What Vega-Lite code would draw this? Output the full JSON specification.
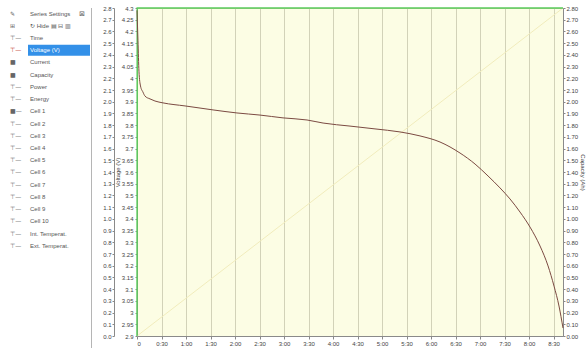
{
  "$schema": "https://vega.github.io/schema/vega-lite/v6.json",
  "padding": {"top": 4, "left": 0, "right": 0, "bottom": 0},
  "autosize": {"type": "pad"},
  "background": "white",
  "spacing": 45,
  "bounds": "flush",
  "config": {
    "font": "Liberation Sans",
    "view": {"stroke": null},
    "axis": {
      "labelFontSize": 6,
      "labelColor": "#444444",
      "tickColor": "#888888",
      "domainColor": "#8a8a8a",
      "titleFontSize": 6,
      "titleFontWeight": "normal",
      "titleColor": "#444444",
      "tickSize": 2,
      "labelPadding": 1
    },
    "axisY": {"grid": false},
    "axisX": {"grid": true, "gridColor": "#d2d2b8", "gridWidth": 1}
  },
  "datasets": {
    "side": [
      {"row": 0, "icon": "✎", "label": "Series Settings", "selected": false},
      {"row": 1, "icon": "⊞", "label": "↻ Hide ▤ ⊟  ▥", "selected": false},
      {"row": 2, "icon": "⊤—", "label": "Time", "selected": false},
      {"row": 3, "icon": "⊤—", "label": "Voltage (V)", "selected": true},
      {"row": 4, "icon": "■", "label": "Current", "selected": false},
      {"row": 5, "icon": "■", "label": "Capacity", "selected": false},
      {"row": 6, "icon": "⊤—", "label": "Power", "selected": false},
      {"row": 7, "icon": "⊤—", "label": "Energy", "selected": false},
      {"row": 8, "icon": "■—", "label": "Cell 1", "selected": false},
      {"row": 9, "icon": "⊤—", "label": "Cell 2", "selected": false},
      {"row": 10, "icon": "⊤—", "label": "Cell 3", "selected": false},
      {"row": 11, "icon": "⊤—", "label": "Cell 4", "selected": false},
      {"row": 12, "icon": "⊤—", "label": "Cell 5", "selected": false},
      {"row": 13, "icon": "⊤—", "label": "Cell 6", "selected": false},
      {"row": 14, "icon": "⊤—", "label": "Cell 7", "selected": false},
      {"row": 15, "icon": "⊤—", "label": "Cell 8", "selected": false},
      {"row": 16, "icon": "⊤—", "label": "Cell 9", "selected": false},
      {"row": 17, "icon": "⊤—", "label": "Cell 10", "selected": false},
      {"row": 18, "icon": "⊤—", "label": "Int. Temperat.", "selected": false},
      {"row": 19, "icon": "⊤—", "label": "Ext. Temperat.", "selected": false}
    ],
    "volt": [
      {"t": 0, "v": 4.29}, {"t": 1.2, "v": 4.16}, {"t": 2.4, "v": 4.03}, {"t": 4.3, "v": 3.967},
      {"t": 7.3, "v": 3.941}, {"t": 9.8, "v": 3.924}, {"t": 15.9, "v": 3.912}, {"t": 22, "v": 3.903},
      {"t": 31.8, "v": 3.895}, {"t": 58.8, "v": 3.882}, {"t": 93.1, "v": 3.865}, {"t": 122.4, "v": 3.852},
      {"t": 150.6, "v": 3.843}, {"t": 178.8, "v": 3.831}, {"t": 208.2, "v": 3.822}, {"t": 227.8, "v": 3.809},
      {"t": 260.8, "v": 3.796}, {"t": 291.4, "v": 3.784}, {"t": 322, "v": 3.771}, {"t": 346.5, "v": 3.754},
      {"t": 371, "v": 3.728}, {"t": 395.5, "v": 3.681}, {"t": 413.9, "v": 3.634}, {"t": 429.8, "v": 3.583},
      {"t": 444.5, "v": 3.532}, {"t": 456.7, "v": 3.485}, {"t": 469, "v": 3.429}, {"t": 481.2, "v": 3.365},
      {"t": 493.5, "v": 3.284}, {"t": 503.3, "v": 3.199}, {"t": 510.6, "v": 3.113}, {"t": 516.7, "v": 3.028},
      {"t": 521.6, "v": 2.934}
    ],
    "curr": [
      {"t": 0, "i": 0}, {"t": 0.3, "i": 2.8}, {"t": 521.6, "i": 2.8}
    ],
    "cap": [
      {"t": 0, "c": 0}, {"t": 260.8, "c": 1.4}, {"t": 521.6, "c": 2.8}
    ]
  },
  "hconcat": [
    {
      "width": 92,
      "height": 341,
      "layer": [
        {
          "data": {"name": "side"},
          "transform": [{"filter": "datum.selected"}],
          "mark": {"type": "rect", "color": "#3390e8"},
          "encoding": {
            "x": {"datum": 28, "type": "quantitative", "scale": {"domain": [0, 92], "nice": false}, "axis": null},
            "x2": {"datum": 90},
            "y": {"field": "row", "type": "ordinal", "scale": {"domain": [0,1,2,3,4,5,6,7,8,9,10,11,12,13,14,15,16,17,18,19,20,21,22,23,24,25,26,27], "paddingInner": 0.1, "paddingOuter": 0}, "axis": null}
          }
        },
        {
          "data": {"name": "side"},
          "mark": {"type": "text", "align": "left", "baseline": "middle", "fontSize": 6, "font": "DejaVu Sans"},
          "encoding": {
            "x": {"datum": 10, "type": "quantitative"},
            "y": {"field": "row", "type": "ordinal"},
            "text": {"field": "icon"},
            "color": {"condition": {"test": "datum.selected", "value": "#c0392b"}, "value": "#666666"}
          }
        },
        {
          "data": {"name": "side"},
          "mark": {"type": "text", "align": "left", "baseline": "middle", "fontSize": 6},
          "encoding": {
            "x": {"condition": {"test": "datum.row < 2", "datum": 19}, "datum": 30, "type": "quantitative"},
            "y": {"field": "row", "type": "ordinal"},
            "text": {"field": "label"},
            "color": {"condition": {"test": "datum.selected", "value": "#ffffff"}, "value": "#555555"}
          }
        },
        {
          "data": {"values": [{"k": "close"}]},
          "mark": {"type": "text", "align": "center", "baseline": "middle", "fontSize": 7, "font": "DejaVu Sans", "color": "#666666"},
          "encoding": {
            "x": {"datum": 82, "type": "quantitative"},
            "y": {"datum": 0, "type": "ordinal"},
            "text": {"value": "⊠"}
          }
        },
        {
          "data": {"values": [{"k": "border"}]},
          "mark": {"type": "rule", "color": "#b5b5b5", "strokeWidth": 1},
          "encoding": {
            "x": {"datum": 91.5, "type": "quantitative"}
          }
        }
      ]
    },
    {
      "width": 426,
      "height": 328,
      "view": {"fill": "#fcfde4", "stroke": "#b9c9a2"},
      "encoding": {
        "x": {
          "field": "t",
          "type": "quantitative",
          "scale": {"domain": [0, 521.6], "nice": false},
          "axis": {
            "values": [0,30,60,90,120,150,180,210,240,270,300,330,360,390,420,450,480,510],
            "labelExpr": "datum.value == 0 ? '0' : floor(datum.value / 60) + ':' + (datum.value % 60 == 0 ? '00' : '30')",
            "title": null,
            "tickSize": 3,
            "labelOverlap": false
          }
        }
      },
      "layer": [
        {
          "data": {"name": "cap"},
          "mark": {"type": "line", "color": "#f1ecbc", "strokeWidth": 1},
          "encoding": {
            "y": {
              "field": "c",
              "type": "quantitative",
              "scale": {"domain": [0, 2.8], "nice": false},
              "axis": {
                "orient": "right",
                "values": [0,0.1,0.2,0.3,0.4,0.5,0.6,0.7,0.8,0.9,1,1.1,1.2,1.3,1.4,1.5,1.6,1.7,1.8,1.9,2,2.1,2.2,2.3,2.4,2.5,2.6,2.7,2.8],
                "format": ".2f",
                "title": "Capacity (Ah)",
                "titlePadding": 2,
                "labelOverlap": false
              }
            }
          }
        },
        {
          "data": {"name": "curr"},
          "mark": {"type": "line", "color": "#5ccb5c", "strokeWidth": 1.5},
          "encoding": {
            "y": {
              "field": "i",
              "type": "quantitative",
              "scale": {"domain": [0, 2.8], "nice": false},
              "axis": {
                "orient": "left",
                "offset": 23,
                "values": [0,0.1,0.2,0.3,0.4,0.5,0.6,0.7,0.8,0.9,1,1.1,1.2,1.3,1.4,1.5,1.6,1.7,1.8,1.9,2,2.1,2.2,2.3,2.4,2.5,2.6,2.7,2.8],
                "format": ".1f",
                "title": null,
                "labelOverlap": false
              }
            }
          }
        },
        {
          "data": {"name": "volt"},
          "mark": {"type": "line", "color": "#7b4a42", "strokeWidth": 1, "interpolate": "monotone"},
          "encoding": {
            "y": {
              "field": "v",
              "type": "quantitative",
              "scale": {"domain": [2.9, 4.3], "nice": false, "zero": false},
              "axis": {
                "orient": "left",
                "values": [2.9,2.95,3,3.05,3.1,3.15,3.2,3.25,3.3,3.35,3.4,3.45,3.5,3.55,3.6,3.65,3.7,3.75,3.8,3.85,3.9,3.95,4,4.05,4.1,4.15,4.2,4.25,4.3],
                "format": ".2~f",
                "title": "Voltage (V)",
                "titlePadding": 1,
                "labelOverlap": false,
                "labelPadding": 2
              }
            }
          }
        }
      ],
      "resolve": {"scale": {"y": "independent"}}
    }
  ]
}
